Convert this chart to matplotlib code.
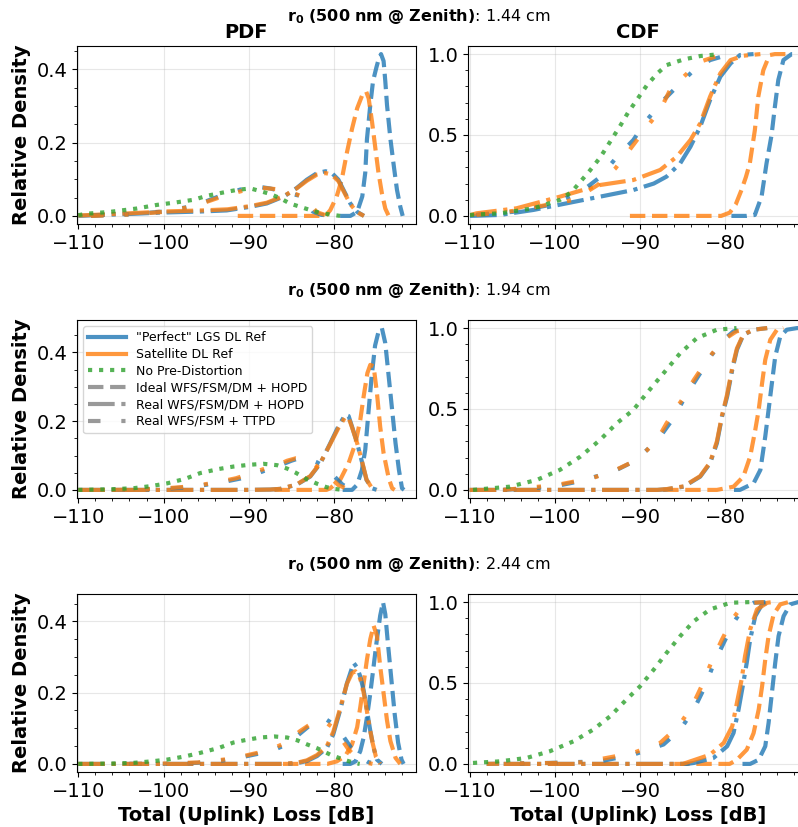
import matplotlib
matplotlib.use("Agg")
import matplotlib.pyplot as plt
from matplotlib.lines import Line2D
import numpy as np

# r0 values for each row
r0_values = ["1.44", "1.94", "2.44"]

# ---------------- row 1 (1.44 cm) : (loss dB, value) ----------------
pdf1_lgs_ideal = [(-79.3, 0), (-78.1, 0), (-77.3, 0.011), (-76.7, 0.053), (-76.35, 0.118), (-76.15, 0.21),
                  (-75.76, 0.303), (-75.44, 0.368), (-75.05, 0.405), (-74.78, 0.428), (-74.5, 0.442),
                  (-74.2, 0.423), (-74.0, 0.368), (-73.8, 0.303), (-73.4, 0.21), (-73.0, 0.136),
                  (-72.63, 0.071), (-72.24, 0.025), (-71.96, 0.0)]
pdf1_sat_ideal = [(-91.3, 0), (-81.0, 0), (-80.45, 0.016), (-79.7, 0.053), (-79.1, 0.1), (-78.5, 0.173),
                  (-77.9, 0.238), (-77.3, 0.294), (-76.7, 0.33), (-76.25, 0.34), (-75.95, 0.321),
                  (-75.55, 0.256), (-75.15, 0.182), (-74.8, 0.118), (-74.4, 0.062), (-74.0, 0.02), (-73.6, 0.0)]
pdf1_lgs_real = [(-110.0, 0.0), (-108.2, 0.002), (-104.3, 0.005), (-100.4, 0.009), (-95.7, 0.012),
                 (-92.6, 0.015), (-89.8, 0.025), (-87.9, 0.034), (-85.9, 0.053), (-84.4, 0.076),
                 (-83.2, 0.099), (-82.0, 0.117), (-81.0, 0.122), (-80.3, 0.118), (-79.5, 0.099),
                 (-78.9, 0.071), (-78.1, 0.034), (-77.3, 0.011), (-76.5, 0.0)]
pdf1_sat_real = [(-110.0, 0.001), (-108.0, 0.003), (-104.0, 0.007), (-100.0, 0.012), (-95.5, 0.015),
                 (-92.5, 0.018), (-89.8, 0.027), (-87.9, 0.036), (-85.9, 0.054), (-84.4, 0.075),
                 (-83.2, 0.096), (-82.0, 0.113), (-81.0, 0.117), (-80.3, 0.113), (-79.5, 0.095),
                 (-78.9, 0.068), (-78.1, 0.032), (-77.3, 0.01), (-76.5, 0.0)]
pdf1_lgs_ttpd = [(-108.5, 0.0), (-104.0, 0.004), (-100.0, 0.012), (-97.0, 0.025), (-95.0, 0.04),
                 (-93.0, 0.058), (-91.0, 0.072), (-89.0, 0.08), (-87.5, 0.075), (-86.0, 0.066),
                 (-85.0, 0.06), (-84.0, 0.055), (-83.2, 0.036), (-82.5, 0.012), (-81.5, 0.003), (-80.0, 0.0)]
pdf1_sat_ttpd = [(-108.5, 0.0), (-104.0, 0.004), (-100.0, 0.011), (-97.0, 0.024), (-95.0, 0.038),
                 (-92.5, 0.058), (-90.5, 0.07), (-88.5, 0.077), (-86.8, 0.073), (-85.5, 0.066),
                 (-84.5, 0.06), (-83.5, 0.05), (-82.8, 0.03), (-82.0, 0.01), (-81.0, 0.002), (-79.5, 0.0)]
pdf1_nopd = [(-110.0, 0.002), (-109.0, 0.006), (-106.3, 0.011), (-103.2, 0.02), (-100.8, 0.03),
             (-98.5, 0.037), (-96.5, 0.044), (-94.9, 0.055), (-93.0, 0.064), (-91.4, 0.071),
             (-89.8, 0.075), (-88.7, 0.068), (-87.5, 0.06), (-86.3, 0.048), (-85.2, 0.034),
             (-84.0, 0.025), (-82.8, 0.016), (-81.6, 0.008), (-80.5, 0.004), (-79.3, 0.0)]

cdf1_lgs_ideal = [(-79.3, 0.0), (-77.5, 0.0), (-76.55, 0.006), (-75.76, 0.12), (-75.18, 0.325),
                  (-74.59, 0.5), (-74.2, 0.675), (-73.8, 0.84), (-73.2, 0.963), (-72.24, 1.0), (-70.4, 1.0)]
cdf1_sat_ideal = [(-91.2, 0.0), (-80.5, 0.0), (-79.5, 0.02), (-78.8, 0.07), (-78.12, 0.16), (-77.6, 0.24),
                  (-77.14, 0.325), (-76.55, 0.53), (-76.15, 0.736), (-75.56, 0.9), (-75.1, 0.96),
                  (-74.8, 0.994), (-74.2, 1.0), (-72.9, 1.0)]
cdf1_lgs_real = [(-109.95, 0.0), (-106.4, 0.006), (-102.5, 0.037), (-98.6, 0.078), (-94.7, 0.119),
                 (-90.8, 0.16), (-88.4, 0.2), (-86.9, 0.243), (-85.3, 0.325), (-84.1, 0.428),
                 (-82.96, 0.551), (-81.8, 0.716), (-80.6, 0.86), (-79.4, 0.942), (-78.3, 0.994), (-76.7, 1.0)]
cdf1_sat_real = [(-109.9, 0.005), (-109.2, 0.016), (-104.5, 0.047), (-99.4, 0.119), (-94.7, 0.191),
                 (-90.8, 0.222), (-87.65, 0.284), (-85.7, 0.366), (-84.1, 0.469), (-82.96, 0.572),
                 (-81.8, 0.737), (-80.6, 0.881), (-79.4, 0.963), (-77.9, 0.99), (-75.9, 1.0)]
cdf1_lgs_ttpd = [(-109.2, 0.006), (-104.5, 0.027), (-100.6, 0.068), (-96.9, 0.15), (-94.7, 0.24),
                 (-92.7, 0.366), (-90.8, 0.469), (-89.2, 0.593), (-87.26, 0.716), (-85.3, 0.819),
                 (-83.7, 0.901), (-81.8, 0.963), (-79.8, 0.994), (-78.7, 1.0)]
cdf1_sat_ttpd = [(-109.2, 0.006), (-104.5, 0.033), (-97.8, 0.099), (-95.0, 0.19), (-92.9, 0.294),
                 (-91.4, 0.397), (-89.2, 0.551), (-87.65, 0.654), (-86.5, 0.778), (-84.5, 0.88),
                 (-82.96, 0.953), (-80.6, 0.994), (-79.0, 1.0)]
cdf1_nopd = [(-109.95, 0.006), (-106.4, 0.016), (-102.5, 0.047), (-99.4, 0.099), (-98.0, 0.15),
             (-95.9, 0.28), (-94.7, 0.36), (-93.5, 0.46), (-92.3, 0.56), (-91.4, 0.64), (-90.4, 0.716),
             (-89.2, 0.808), (-88.0, 0.88), (-86.9, 0.932), (-84.9, 0.967), (-82.96, 0.988), (-80.6, 1.0)]

# ---------------- row 2 (1.94 cm) ----------------
pdf2_lgs_ideal = [(-79.0, 0.0), (-77.9, 0.0), (-77.3, 0.015), (-76.74, 0.058), (-76.35, 0.117),
                  (-75.95, 0.233), (-75.6, 0.33), (-75.2, 0.42), (-74.8, 0.46), (-74.4, 0.471),
                  (-74.0, 0.427), (-73.6, 0.33), (-73.2, 0.233), (-72.8, 0.136), (-72.4, 0.058),
                  (-72.04, 0.005), (-71.8, 0.0)]
pdf2_sat_ideal = [(-87.0, 0.0), (-80.9, 0.0), (-80.45, 0.005), (-79.3, 0.029), (-78.3, 0.078),
                  (-77.5, 0.136), (-76.93, 0.204), (-76.54, 0.272), (-76.1, 0.34), (-75.76, 0.364),
                  (-75.37, 0.36), (-74.98, 0.282), (-74.6, 0.184), (-74.2, 0.107), (-73.6, 0.034),
                  (-73.2, 0.005), (-72.9, 0.0)]
pdf2_lgs_real = [(-110.0, 0.0), (-90.0, 0.0), (-87.5, 0.001), (-86.3, 0.003), (-84.4, 0.015),
                 (-82.8, 0.039), (-81.6, 0.078), (-80.45, 0.136), (-79.5, 0.185), (-78.7, 0.219),
                 (-78.3, 0.215), (-77.9, 0.184), (-77.3, 0.136), (-76.7, 0.078), (-76.2, 0.029),
                 (-75.56, 0.005), (-75.0, 0.0)]
pdf2_sat_real = [(-110.0, 0.0), (-90.0, 0.0), (-87.5, 0.001), (-86.3, 0.003), (-84.4, 0.016),
                 (-82.8, 0.04), (-81.6, 0.079), (-80.45, 0.134), (-79.5, 0.18), (-78.7, 0.212),
                 (-78.3, 0.21), (-77.9, 0.182), (-77.3, 0.136), (-76.7, 0.08), (-76.2, 0.03),
                 (-75.56, 0.005), (-75.0, 0.0)]
pdf2_lgs_ttpd = [(-106.0, 0.0), (-104.0, 0.0), (-100.0, 0.003), (-97.0, 0.008), (-95.0, 0.015),
                 (-93.0, 0.023), (-91.0, 0.033), (-89.0, 0.048), (-87.5, 0.062), (-86.0, 0.075),
                 (-85.0, 0.085), (-84.0, 0.093), (-83.0, 0.09), (-82.0, 0.08), (-81.0, 0.066),
                 (-80.0, 0.04), (-79.0, 0.015), (-78.0, 0.003), (-77.0, 0.0)]
pdf2_sat_ttpd = [(-106.0, 0.0), (-104.0, 0.001), (-100.0, 0.004), (-97.0, 0.01), (-95.0, 0.017),
                 (-93.0, 0.026), (-91.5, 0.034), (-89.5, 0.05), (-88.0, 0.063), (-86.5, 0.074),
                 (-85.5, 0.085), (-84.5, 0.092), (-83.5, 0.088), (-82.5, 0.077), (-81.5, 0.06),
                 (-80.5, 0.037), (-79.5, 0.014), (-78.5, 0.003), (-77.5, 0.0)]
pdf2_nopd = [(-110.0, 0.0), (-106.0, 0.002), (-103.5, 0.005), (-101.5, 0.011), (-99.6, 0.019),
             (-97.5, 0.032), (-95.7, 0.049), (-93.5, 0.061), (-91.8, 0.068), (-90.0, 0.073),
             (-88.3, 0.076), (-86.7, 0.072), (-85.5, 0.062), (-84.5, 0.05), (-83.2, 0.031),
             (-82.0, 0.018), (-80.9, 0.008), (-80.0, 0.003), (-79.0, 0.0)]

cdf2_lgs_ideal = [(-79.0, 0.0), (-78.3, 0.0), (-76.7, 0.041), (-75.9, 0.124), (-75.33, 0.33),
                  (-74.94, 0.495), (-74.55, 0.66), (-74.16, 0.825), (-73.57, 0.948), (-72.8, 0.99),
                  (-71.6, 1.0), (-70.4, 1.0)]
cdf2_sat_ideal = [(-87.3, 0.0), (-81.0, 0.0), (-79.05, 0.02), (-77.9, 0.082), (-77.1, 0.206),
                  (-76.5, 0.371), (-76.1, 0.495), (-75.7, 0.66), (-75.33, 0.804), (-74.74, 0.928),
                  (-73.96, 0.99), (-73.2, 1.0)]
cdf2_lgs_real = [(-110.0, 0.0), (-88.0, 0.0), (-86.9, 0.004), (-84.9, 0.02), (-82.96, 0.082),
                 (-81.8, 0.165), (-81.0, 0.289), (-80.4, 0.453), (-79.8, 0.577), (-79.2, 0.742),
                 (-78.65, 0.866), (-77.9, 0.958), (-76.7, 0.99), (-75.1, 1.0)]
cdf2_sat_real = [(-110.0, 0.0), (-88.0, 0.0), (-86.9, 0.005), (-84.9, 0.022), (-82.96, 0.085),
                 (-81.8, 0.17), (-81.0, 0.3), (-80.4, 0.46), (-79.8, 0.59), (-79.2, 0.755),
                 (-78.65, 0.875), (-77.9, 0.96), (-76.7, 0.99), (-75.1, 1.0)]
cdf2_lgs_ttpd = [(-106.0, 0.0), (-100.2, 0.02), (-97.4, 0.05), (-94.7, 0.09), (-92.5, 0.13),
                 (-90.8, 0.175), (-89.2, 0.247), (-87.5, 0.34), (-86.1, 0.443), (-84.7, 0.577),
                 (-82.96, 0.721), (-81.6, 0.835), (-80.2, 0.928), (-79.05, 0.98), (-77.9, 0.993), (-76.5, 1.0)]
cdf2_sat_ttpd = [(-106.0, 0.0), (-99.8, 0.03), (-95.5, 0.075), (-93.0, 0.12), (-91.2, 0.165),
                 (-89.5, 0.23), (-88.0, 0.309), (-86.9, 0.412), (-85.1, 0.556), (-83.7, 0.68),
                 (-82.0, 0.814), (-80.2, 0.928), (-78.7, 0.98), (-77.1, 0.995), (-76.0, 1.0)]
cdf2_nopd = [(-109.6, 0.0), (-105.3, 0.02), (-102.1, 0.062), (-99.4, 0.124), (-97.0, 0.206),
             (-94.7, 0.309), (-92.74, 0.412), (-90.8, 0.494), (-89.22, 0.598), (-87.26, 0.721),
             (-85.3, 0.845), (-83.35, 0.938), (-81.0, 0.99), (-78.7, 1.0)]

# ---------------- row 3 (2.44 cm) ----------------
pdf3_lgs_ideal = [(-79.0, 0.0), (-78.1, 0.0), (-77.5, 0.007), (-76.93, 0.036), (-76.54, 0.074),
                  (-76.15, 0.131), (-75.76, 0.198), (-75.37, 0.274), (-74.98, 0.35), (-74.6, 0.416),
                  (-74.27, 0.454), (-74.0, 0.42), (-73.7, 0.34), (-73.3, 0.24), (-72.9, 0.14),
                  (-72.5, 0.06), (-72.1, 0.012), (-71.85, 0.0)]
pdf3_sat_ideal = [(-86.0, 0.0), (-80.8, 0.0), (-79.7, 0.007), (-78.7, 0.022), (-77.9, 0.055),
                  (-77.3, 0.103), (-76.93, 0.16), (-76.54, 0.226), (-76.15, 0.293), (-75.76, 0.35),
                  (-75.37, 0.388), (-74.98, 0.359), (-74.6, 0.274), (-74.2, 0.198), (-73.8, 0.122),
                  (-73.4, 0.064), (-72.8, 0.017), (-72.24, 0.0)]
pdf3_lgs_real = [(-110.0, 0.0), (-86.0, 0.0), (-84.4, 0.002), (-83.2, 0.008), (-82.0, 0.022),
                 (-80.85, 0.045), (-80.1, 0.083), (-79.3, 0.15), (-78.5, 0.226), (-77.9, 0.27),
                 (-77.7, 0.283), (-77.3, 0.27), (-76.93, 0.245), (-76.54, 0.207), (-76.15, 0.15),
                 (-75.76, 0.093), (-75.37, 0.045), (-74.98, 0.012), (-74.4, 0.0)]
pdf3_sat_real = [(-110.0, 0.0), (-86.0, 0.0), (-84.4, 0.003), (-83.2, 0.01), (-82.0, 0.025),
                 (-80.85, 0.05), (-80.1, 0.09), (-79.3, 0.155), (-78.5, 0.225), (-77.9, 0.255),
                 (-77.5, 0.26), (-77.1, 0.25), (-76.7, 0.22), (-76.3, 0.17), (-75.9, 0.11),
                 (-75.5, 0.06), (-75.1, 0.02), (-74.6, 0.0)]
pdf3_lgs_ttpd = [(-104.0, 0.0), (-100.0, 0.0), (-96.0, 0.003), (-93.0, 0.01), (-91.0, 0.018),
                 (-89.0, 0.028), (-87.0, 0.04), (-86.0, 0.05), (-85.0, 0.065), (-84.0, 0.085),
                 (-83.0, 0.105), (-82.0, 0.12), (-81.0, 0.126), (-80.0, 0.11), (-79.0, 0.08),
                 (-78.0, 0.045), (-77.0, 0.02), (-76.0, 0.005), (-75.0, 0.0)]
pdf3_sat_ttpd = [(-104.0, 0.0), (-100.0, 0.001), (-96.0, 0.004), (-93.0, 0.012), (-91.0, 0.02),
                 (-89.0, 0.031), (-87.0, 0.045), (-86.0, 0.056), (-85.0, 0.072), (-84.0, 0.092),
                 (-83.0, 0.108), (-82.0, 0.118), (-81.2, 0.12), (-80.3, 0.105), (-79.3, 0.075),
                 (-78.3, 0.04), (-77.3, 0.016), (-76.3, 0.004), (-75.5, 0.0)]
pdf3_nopd = [(-110.0, 0.0), (-106.0, 0.001), (-103.5, 0.003), (-101.5, 0.007), (-99.6, 0.012),
             (-97.5, 0.021), (-95.7, 0.031), (-93.5, 0.045), (-91.8, 0.06), (-90.6, 0.066),
             (-88.7, 0.074), (-87.0, 0.077), (-85.5, 0.074), (-84.3, 0.066), (-83.2, 0.055),
             (-82.0, 0.044), (-80.45, 0.026), (-78.9, 0.012), (-77.5, 0.002), (-77.0, 0.0)]

cdf3_lgs_ideal = [(-78.0, 0.0), (-77.1, 0.0), (-76.1, 0.026), (-75.33, 0.109), (-74.94, 0.253),
                  (-74.55, 0.439), (-74.16, 0.625), (-73.77, 0.79), (-73.18, 0.913), (-72.4, 0.986),
                  (-71.46, 1.0), (-70.4, 1.0)]
cdf3_sat_ideal = [(-86.0, 0.0), (-79.5, 0.0), (-78.65, 0.026), (-77.5, 0.088), (-76.7, 0.19),
                  (-76.1, 0.336), (-75.7, 0.48), (-75.33, 0.645), (-74.94, 0.79), (-74.35, 0.924),
                  (-73.57, 0.986), (-72.6, 1.0)]
cdf3_lgs_real = [(-106.0, 0.0), (-84.5, 0.0), (-83.7, 0.006), (-81.4, 0.037), (-79.8, 0.109),
                 (-79.05, 0.191), (-78.46, 0.336), (-77.9, 0.501), (-77.5, 0.625), (-77.1, 0.769),
                 (-76.5, 0.913), (-75.7, 0.986), (-74.74, 1.0)]
cdf3_sat_real = [(-106.0, 0.0), (-85.0, 0.0), (-84.1, 0.016), (-81.8, 0.057), (-80.2, 0.13),
                 (-79.2, 0.233), (-78.65, 0.378), (-78.1, 0.522), (-77.7, 0.666), (-77.1, 0.831),
                 (-76.3, 0.955), (-75.1, 0.996), (-74.5, 1.0)]
cdf3_lgs_ttpd = [(-108.0, 0.0), (-100.6, 0.006), (-94.7, 0.016), (-90.8, 0.057), (-87.26, 0.12),
                 (-85.3, 0.212), (-83.7, 0.336), (-82.56, 0.46), (-81.4, 0.614), (-80.2, 0.748),
                 (-79.05, 0.872), (-77.9, 0.965), (-76.7, 0.996), (-75.1, 1.0)]
cdf3_sat_ttpd = [(-108.0, 0.0), (-100.0, 0.006), (-96.65, 0.01), (-90.8, 0.068), (-87.65, 0.13),
                 (-85.5, 0.233), (-83.9, 0.357), (-82.8, 0.48), (-81.6, 0.635), (-80.4, 0.769),
                 (-79.2, 0.893), (-78.1, 0.971), (-76.7, 0.996), (-75.5, 1.0)]
cdf3_nopd = [(-109.6, 0.006), (-106.4, 0.016), (-103.3, 0.037), (-100.6, 0.078), (-97.8, 0.14),
             (-95.5, 0.212), (-93.5, 0.295), (-91.6, 0.398), (-90.0, 0.48), (-88.4, 0.583),
             (-86.9, 0.686), (-85.3, 0.79), (-83.7, 0.882), (-81.8, 0.955), (-79.4, 0.996), (-77.1, 1.0)]

BLUE = "#1f77b4"
ORANGE = "#ff7f0e"
GREEN = "#2ca02c"
LS_IDEAL = "--"
LS_REAL = "-."
LS_TTPD = (0, (3, 5, 1, 5))
LW = 3
ALPHA = 0.8

rows = [
    (pdf1_lgs_ideal, pdf1_sat_ideal, pdf1_lgs_real, pdf1_sat_real, pdf1_lgs_ttpd, pdf1_sat_ttpd, pdf1_nopd,
     cdf1_lgs_ideal, cdf1_sat_ideal, cdf1_lgs_real, cdf1_sat_real, cdf1_lgs_ttpd, cdf1_sat_ttpd, cdf1_nopd),
    (pdf2_lgs_ideal, pdf2_sat_ideal, pdf2_lgs_real, pdf2_sat_real, pdf2_lgs_ttpd, pdf2_sat_ttpd, pdf2_nopd,
     cdf2_lgs_ideal, cdf2_sat_ideal, cdf2_lgs_real, cdf2_sat_real, cdf2_lgs_ttpd, cdf2_sat_ttpd, cdf2_nopd),
    (pdf3_lgs_ideal, pdf3_sat_ideal, pdf3_lgs_real, pdf3_sat_real, pdf3_lgs_ttpd, pdf3_sat_ttpd, pdf3_nopd,
     cdf3_lgs_ideal, cdf3_sat_ideal, cdf3_lgs_real, cdf3_sat_real, cdf3_lgs_ttpd, cdf3_sat_ttpd, cdf3_nopd),
]


def draw(ax, curves):
    styles = [(BLUE, LS_IDEAL), (ORANGE, LS_IDEAL), (BLUE, LS_REAL), (ORANGE, LS_REAL),
              (BLUE, LS_TTPD), (ORANGE, LS_TTPD), (GREEN, ":")]
    for pts, (c, ls) in zip(curves, styles):
        xy = np.array(pts, dtype=float)
        ax.plot(xy[:, 0], xy[:, 1], color=c, ls=ls, lw=LW, alpha=ALPHA)


W, H = 798, 827
fig = plt.figure(figsize=(W / 100, H / 100), dpi=100)

tops = [46, 320, 594]
ax_h = 178
for i, (row, r0) in enumerate(zip(rows, r0_values)):
    b = (H - tops[i] - ax_h) / H
    axp = fig.add_axes([77 / W, b, 339 / W, ax_h / H])
    axc = fig.add_axes([468.3 / W, b, 339 / W, ax_h / H])
    draw(axp, row[:7])
    draw(axc, row[7:])
    for ax in (axp, axc):
        ax.set_xlim(-110.15, -70.4)
        ax.set_xticks([-110, -100, -90, -80])
        ax.minorticks_on()
        ax.grid(True, alpha=0.3)
        ax.tick_params(labelsize=14)
    axc.set_ylim(-0.05, 1.05)
    axc.set_yticks([0.0, 0.5, 1.0])
    axp.set_ylabel("Relative Density", fontsize=14, fontweight="bold")
    if i == 0:
        axp.set_title("PDF", fontsize=14, fontweight="bold")
        axc.set_title("CDF", fontsize=14, fontweight="bold")
    if i == 2:
        axp.set_xlabel("Total (Uplink) Loss [dB]", fontsize=14, fontweight="bold")
        axc.set_xlabel("Total (Uplink) Loss [dB]", fontsize=14, fontweight="bold")
    fig.text(418.5 / W, 1 - (tops[i] - 29) / H,
             r"$\bf{r_0\ (500\ nm\ @\ Zenith)}$: " + r0 + " cm",
             ha="center", va="center", fontsize=11.5)
    if i == 1:
        handles = [
            Line2D([0], [0], color=BLUE, lw=LW, alpha=ALPHA),
            Line2D([0], [0], color=ORANGE, lw=LW, alpha=ALPHA),
            Line2D([0], [0], color=GREEN, lw=LW, ls=":", alpha=ALPHA),
            Line2D([0], [0], color="gray", lw=LW, ls=LS_IDEAL, alpha=ALPHA),
            Line2D([0], [0], color="gray", lw=LW, ls=LS_REAL, alpha=ALPHA),
            Line2D([0], [0], color="gray", lw=LW, ls=LS_TTPD, alpha=ALPHA),
        ]
        labels = ['"Perfect" LGS DL Ref', "Satellite DL Ref", "No Pre-Distortion",
                  "Ideal WFS/FSM/DM + HOPD", "Real WFS/FSM/DM + HOPD", "Real WFS/FSM + TTPD"]
        axp.legend(handles, labels, loc="upper left", fontsize=9, handlelength=3, labelspacing=0.3)

fig.savefig("out.png", dpi=100)
